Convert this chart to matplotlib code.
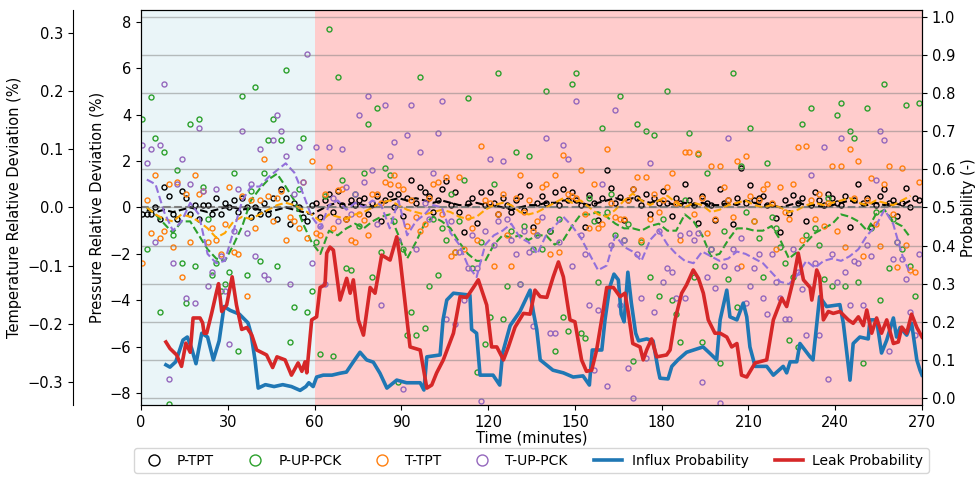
import numpy as np
import matplotlib.pyplot as plt

# Scatter readings, one every 1.5 min starting at 0.5 min (one row = 30 min)
p_tpt = [
    -0.3, -0.3, -0.3, 0.0, -0.5, 0.9, 0.5, -0.3, -0.5, 0.7, 0.4, -0.3, 0.1, -0.5, 0.1, 0.1, -0.3, 0.4, -0.3, 0.2,
    0.0, 0.3, -0.2, 0.4, 0.0, -0.4, 0.0, -0.3, 0.2, -0.3, 0.4, -0.5, 0.8, 0.4, -0.7, 0.2, 0.0, -0.4, -0.6, 0.1,
    0.2, -0.4, 0.3, 0.6, -0.2, 0.7, 0.1, -0.5, 0.3, 0.1, 0.3, 0.4, -0.3, 0.2, 0.5, -0.6, 0.3, 0.6, 0.0, 0.6,
    -0.35, 0.4, 1.2, 0.2, 0.9, 0.65, 0.5, -0.2, 0.3, 0.8, 1.15, 0.1, 0.65, -0.2, -1.05, 0.2, 0.4, -0.65, 0.65, 0.1,
    0.65, 0.2, -0.3, 0.4, 0.1, -0.2, 0.3, 0.5, -0.1, 0.95, -0.85, 0.2, 0.5, 0.2, -1.0, 0.65, 0.1, 0.8, 0.3, 0.65,
    0.3, 0.1, -0.85, 0.55, 0.2, -0.55, 0.4, 1.6, 0.85, 0.2, 0.45, -0.55, 0.3, 0.8, 0.4, 0.1, 0.6, -0.3, 0.4, 0.2,
    0.7, 0.2, -0.35, 0.4, 0.2, 1.0, 0.3, 0.1, -0.65, 0.5, 0.2, 0.1, -0.55, 0.8, 0.2, 0.3, -0.7, 0.4, 1.7, 0.2,
    0.95, 0.3, 0.4, 0.5, 0.1, 0.15, -0.45, -1.05, 0.3, -0.25, 0.55, 0.2, 0.4, -0.6, 0.1, 0.65, 0.3, 0.1, 0.6, 0.4,
    0.2, 0.1, 0.5, -0.85, 0.3, 1.0, 0.2, 0.4, -0.85, 0.1, 0.5, 0.8, 0.2, 0.3, -0.35, 0.2, 0.85, 0.0, 0.4, 0.3,
]
p_up_pck = [
    3.8, -1.8, 4.75, 3.0, -4.5, 2.4, -8.45, -1.2, 1.6, -2.4, -4.1, 3.6, -2.5, 3.8, 0.9, -0.5, -2.9, -2.4, -3.6, -3.3,
    -2.8, 1.5, -6.2, 4.8, -2.9, 0.7, 5.2, -2.3, 1.5, 2.9, 3.8, -2.5, 2.9, 5.9, -5.8, -4.3, 0.8, 3.0, -4.5, -3.6,
    -1.5, -6.3, 0.5, 7.7, -6.4, 5.6, 1.2, -2.6, -2.7, 0.6, -0.8, 1.5, 3.6, -3.0, 4.3, -1.9, 1.7, 1.4, -0.6, -7.5,
    -1.8, -5.5, -4.5, -5.5, 5.6, -5.2, -3.4, -0.5, -2.9, -0.9, -1.4, 0.6, -1.9, -0.6, 1.2, 4.7, -2.6, -7.1, -1.5, -5.9,
    -4.7, 1.0, 5.8, -4.8, -3.4, -1.0, 2.4, -3.3, -0.8, 2.2, -1.8, -1.2, -1.8, 5.0, -1.0, -6.2, -0.5, -4.7, -5.3, 5.3,
    5.8, -5.4, -5.6, 0.4, -0.6, -3.2, 3.4, -0.2, 0.6, -1.2, 4.8, -1.4, -0.7, -6.6, 3.6, -1.5, 3.3, -3.0, 3.1, -3.8,
    -0.5, 5.0, -4.0, -4.6, -5.8, 0.3, 3.2, -3.0, 2.3, -5.8, 1.5, -1.8, -2.5, -6.7, -1.0, -3.1, 5.8, -4.3, 1.8, -0.2,
    3.4, -0.6, -1.3, -3.0, 1.9, -0.4, -0.9, -1.7, -2.4, -5.7, -3.0, -6.0, 3.6, -1.2, 4.3, -0.9, -1.6, -3.1, 0.4, -3.4,
    4.0, 4.5, -3.4, 3.3, 3.0, -3.2, -6.7, 4.3, -0.9, -0.2, -4.0, 5.3, -2.6, -0.5, -1.5, -1.8, 4.4, -2.5, -3.8, 4.5,
]
t_tpt = [
    -0.096, 0.012, -0.044, 0.056, -0.052, -0.040, 0.040, -0.068, 0.044, -0.120, 0.024, -0.060, 0.056, 0.024, 0.028, -0.060, -0.036, -0.056, -0.080, -0.028,
    0.036, -0.076, -0.080, 0.020, -0.152, 0.012, -0.036, 0.012, 0.084, 0.020, -0.024, 0.016, 0.028, -0.056, -0.016, -0.024, -0.036, 0.044, -0.052, 0.080,
    -0.044, -0.048, 0.024, 0.070, -0.036, 0.030, 0.032, -0.020, -0.056, -0.060, -0.012, -0.022, -0.048, 0.024, 0.024, 0.008, 0.044, 0.040, 0.056, 0.038,
    0.032, -0.032, 0.012, -0.016, -0.040, -0.028, 0.016, 0.040, 0.044, -0.012, 0.052, -0.084, -0.076, 0.052, -0.072, -0.016, -0.036, -0.056, 0.106, 0.012,
    0.008, -0.100, -0.012, 0.024, -0.048, -0.100, 0.016, 0.056, -0.008, 0.012, -0.040, -0.024, 0.036, 0.040, -0.080, 0.056, -0.076, 0.090, 0.024, 0.020,
    0.016, 0.064, -0.012, -0.036, 0.040, -0.036, -0.028, 0.100, 0.008, -0.016, -0.020, -0.020, 0.012, 0.032, 0.052, -0.056, 0.052, -0.020, 0.024, -0.008,
    0.012, 0.036, 0.060, 0.008, -0.056, 0.096, 0.096, -0.012, 0.094, 0.016, -0.044, 0.072, -0.020, 0.072, 0.036, 0.012, -0.016, 0.080, -0.100, 0.088,
    0.020, -0.024, 0.012, 0.032, 0.040, 0.008, -0.072, 0.036, -0.008, -0.020, 0.040, 0.104, -0.056, 0.106, 0.012, -0.020, 0.024, -0.032, 0.008, 0.072,
    -0.040, 0.072, -0.068, 0.100, 0.016, 0.080, -0.084, 0.012, 0.050, -0.028, -0.066, 0.040, 0.072, -0.012, -0.102, 0.068, -0.064, -0.108, -0.112, 0.044,
]
t_up_pck = [
    0.108, 0.076, 0.100, -0.060, 0.108, 0.212, -0.296, -0.096, 0.040, 0.084, -0.156, 0.040, -0.164, 0.136, 0.028, -0.136, -0.112, 0.032, -0.084, -0.144,
    -0.236, -0.040, 0.032, 0.132, -0.044, 0.040, -0.084, 0.100, -0.116, -0.124, 0.116, 0.160, 0.132, 0.088, -0.132, 0.024, 0.104, 0.044, 0.264, -0.096,
    0.104, -0.032, -0.132, 0.104, 0.016, -0.024, 0.100, 0.036, -0.012, 0.024, 0.160, 0.044, 0.192, 0.064, -0.028, -0.168, 0.176, 0.088, 0.112, -0.056,
    -0.312, 0.124, 0.176, -0.072, 0.096, 0.008, -0.020, 0.060, 0.128, 0.184, -0.192, -0.024, -0.200, -0.076, -0.160, -0.104, -0.048, -0.104, -0.334, -0.040,
    0.084, -0.064, -0.024, 0.080, -0.020, -0.056, -0.080, -0.132, -0.040, -0.076, -0.204, -0.048, -0.016, 0.120, -0.216, -0.216, -0.060, 0.108, 0.084, -0.100,
    0.184, -0.048, -0.080, -0.168, -0.280, -0.176, 0.040, -0.308, -0.064, 0.168, -0.168, -0.056, -0.276, -0.328, -0.080, -0.156, -0.260, 0.076, -0.180, -0.040,
    -0.128, -0.104, -0.112, -0.156, -0.048, -0.156, -0.044, -0.056, -0.044, -0.300, -0.120, -0.072, -0.138, -0.336, -0.100, 0.120, -0.072, -0.104, -0.052, -0.164,
    -0.136, -0.104, -0.080, -0.156, -0.184, -0.080, -0.128, -0.156, -0.192, -0.192, -0.072, -0.112, -0.140, -0.220, 0.056, -0.096, -0.220, 0.104, -0.296, -0.080,
    -0.128, 0.120, -0.112, -0.168, -0.092, -0.096, -0.168, -0.064, -0.084, 0.048, 0.132, 0.116, -0.248, -0.088, -0.060, -0.088, -0.124, -0.180, -0.220, -0.080,
]

# Rolling means, one every 3 min starting at 2 min
p_tpt_roll = [
    -0.1, -0.2, -0.1, -0.2, -0.1, 0.0, -0.1, -0.2, -0.1, 0.0,
    0.0, -0.1, 0.0, -0.1, -0.2, -0.1, 0.0, -0.1, -0.2, -0.3,
    -0.1, 0.1, 0.2, 0.1, 0.2, 0.1, 0.0, 0.2, 0.3, 0.4,
    0.3, 0.4, 0.3, 0.2, 0.3, 0.2, 0.1, 0.1, 0.2, 0.1,
    0.1, 0.0, -0.1, 0.0, 0.1, 0.1, 0.2, 0.2, 0.3, 0.3,
    0.2, 0.1, 0.2, 0.3, 0.4, 0.3, 0.4, 0.3, 0.2, 0.3,
    0.2, 0.1, 0.2, 0.1, 0.2, 0.1, 0.1, 0.2, 0.1, 0.3,
    0.2, 0.1, 0.1, 0.0, 0.1, 0.2, 0.1, 0.1, 0.0, 0.1,
    0.2, 0.3, 0.2, 0.1, 0.2, 0.1, 0.2, 0.1, 0.3,
]
p_up_pck_roll = [
    0.0, -0.3, -0.7, -1.1, -0.6, -0.6, -1.2, -1.8, -2.2, -2.3,
    -1.6, -0.8, 0.3, 0.8, 1.2, 1.45, 0.9, 0.3, -0.7, -1.5,
    -2.0, -1.0, -1.2, -0.9, -0.7, -0.9, -0.6, -0.4, -0.3, -1.2,
    -2.2, -1.5, -0.7, -0.4, -0.6, -0.9, -1.5, -2.0, -2.3, -2.3,
    -1.6, -1.2, -1.3, -1.2, -1.4, -1.2, -1.2, -1.6, -1.4, -0.8,
    -0.3, -0.3, -0.2, -0.4, -0.7, -0.9, -0.9, -1.0, -0.8, -0.7,
    -1.0, -1.0, -0.3, -0.6, -1.2, -2.1, -2.0, -1.4, -0.9, -0.9,
    -1.0, -1.0, -0.8, -1.4, -2.2, -1.9, -1.5, -1.1, -0.9, -0.7,
    -0.3, -0.4, -0.6, -1.0, -0.3, -0.1, -0.6, -0.8, -1.3,
]
t_tpt_roll = [
    0.0, -0.012, -0.02, -0.024, -0.012, -0.016, -0.024, -0.036, -0.052, -0.044,
    -0.024, -0.016, -0.02, -0.012, -0.004, 0.004, 0.008, 0.004, -0.004, -0.012,
    -0.024, -0.012, -0.016, -0.02, -0.012, -0.008, 0.0, 0.008, 0.012, 0.004,
    -0.004, -0.008, -0.012, -0.008, -0.004, -0.008, -0.016, -0.02, -0.016, -0.004,
    0.004, 0.008, 0.004, -0.008, -0.012, -0.008, 0.0, 0.008, 0.016, 0.008,
    0.012, 0.0, -0.012, -0.016, -0.004, 0.012, 0.024, 0.012, 0.004, 0.012,
    0.02, 0.008, 0.0, 0.008, 0.004, -0.008, -0.004, 0.004, 0.008, 0.012,
    0.004, 0.0, 0.004, 0.0, -0.008, -0.004, 0.004, 0.008, 0.004, 0.008,
    0.012, 0.016, 0.008, 0.004, 0.012, 0.008, 0.004, 0.012, 0.02,
]
t_up_pck_roll = [
    0.048, 0.04, -0.008, -0.04, -0.024, 0.008, -0.012, -0.08, -0.096, -0.092,
    -0.04, 0.012, 0.036, 0.036, 0.052, 0.064, 0.076, 0.06, 0.024, -0.016,
    -0.036, 0.004, 0.012, -0.004, 0.008, 0.0, 0.012, 0.004, -0.036, 0.012,
    -0.048, -0.024, -0.012, 0.004, 0.0, -0.044, -0.064, -0.1, -0.12, -0.064,
    -0.048, -0.04, -0.028, -0.052, -0.06, -0.08, -0.048, -0.032, -0.016, -0.032,
    -0.052, -0.08, -0.108, -0.1, -0.048, -0.068, -0.076, -0.092, -0.056, -0.04,
    -0.064, -0.08, -0.092, -0.096, -0.076, -0.084, -0.092, -0.088, -0.076, -0.08,
    -0.088, -0.096, -0.112, -0.128, -0.132, -0.116, -0.092, -0.104, -0.092, -0.088,
    -0.092, -0.084, -0.072, -0.048, -0.032, -0.004, -0.028, -0.08, -0.116,
]

# Classifier output
influx_t = [8.6, 10, 12, 14.5, 16, 17.5, 19, 21, 23, 25, 27, 28.7, 30.8, 34, 37, 38, 39.4, 40.5, 43, 46,
            49, 52, 55, 57, 58, 59.5, 60.7, 63, 66, 68.8, 71, 73.4, 75.7, 78, 80.3, 82.6, 85, 88.4, 91.8, 96.5,
            97.8, 98.8, 103.4, 104.4, 105.7, 108, 113.7, 114.3, 116, 117.2, 121.7, 124, 125, 127.6, 131, 134.5,
            135.6, 136.8, 138, 142.4, 146, 149.4, 152.8, 155, 156, 159.3, 160.4, 162, 163.5, 165, 166, 167,
            168.3, 169.5, 171, 172, 174.8, 177, 178.8, 179.4, 182.2, 183.5, 185.6, 188.6, 194.3, 196.7, 199,
            200.2, 202.5, 203.6, 206, 208.2, 209.4, 210.5, 212.3, 216.3, 218.6, 222, 223.2, 224.4, 226.7,
            227.8, 231.3, 232.3, 234.6, 237, 241.6, 242.8, 245.1, 246.2, 248.5, 251.4, 252, 254.3, 256, 257.8,
            260.1, 261.2, 262.4, 264.7, 266.4, 268.2, 269.3, 270]
influx_p = [0.087, 0.081, 0.095, 0.152, 0.16, 0.13, 0.09, 0.17, 0.16, 0.10, 0.15, 0.24, 0.23, 0.22, 0.197, 0.17,
            0.10, 0.026, 0.035, 0.03, 0.035, 0.03, 0.02, 0.03, 0.04, 0.03, 0.055, 0.06, 0.06, 0.065, 0.068, 0.095,
            0.12, 0.10, 0.094, 0.065, 0.026, 0.047, 0.04, 0.04, 0.021, 0.108, 0.113, 0.205, 0.257, 0.275, 0.27,
            0.18, 0.17, 0.06, 0.06, 0.034, 0.118, 0.19, 0.227, 0.283, 0.227, 0.18, 0.1, 0.073, 0.066, 0.055,
            0.058, 0.034, 0.126, 0.126, 0.205, 0.29, 0.325, 0.31, 0.22, 0.2, 0.33, 0.25, 0.17, 0.15, 0.155, 0.15,
            0.073, 0.052, 0.05, 0.083, 0.1, 0.12, 0.134, 0.117, 0.1, 0.205, 0.283, 0.213, 0.205, 0.249, 0.213,
            0.134, 0.083, 0.083, 0.06, 0.083, 0.066, 0.095, 0.095, 0.143, 0.108, 0.1, 0.266, 0.24, 0.245, 0.196,
            0.047, 0.143, 0.16, 0.155, 0.205, 0.205, 0.118, 0.152, 0.21, 0.16, 0.185, 0.165, 0.196, 0.1, 0.073,
            0.06]
leak_t = [8.6, 10, 12.3, 14, 15.5, 17, 18, 20.4, 21.3, 21.8, 22.7, 24.4, 26, 26.8, 27.9, 29.6, 31.5, 33, 34.8,
          36.6, 38.3, 40, 43.4, 45.5, 47, 49.8, 52, 54.3, 55.6, 56.7, 57.3, 59, 60.7, 61.9, 63.6, 64.2, 65.3,
          66.5, 68.8, 71.1, 72.3, 73.4, 75.1, 76.9, 79.2, 80.9, 83.2, 86.1, 88.4, 89.5, 93, 96.5, 98.8, 100.5,
          102.2, 104.5, 108, 110.3, 112.6, 114.9, 116.6, 119.5, 121.2, 123, 125.3, 127, 129.3, 132.2, 134.5,
          136.2, 138, 140.3, 142.5, 144.3, 146, 148.3, 150, 152.3, 154, 155.8, 157.5, 159.8, 161, 163.3, 165.6,
          167.3, 168.5, 170, 172.5, 173.6, 174.8, 176.5, 178.3, 181.7, 182.9, 184.6, 186.9, 188.6, 190.9, 192.7,
          194.4, 196.1, 198.4, 200.2, 202.5, 204.2, 206, 207.6, 209.4, 212.3, 216.3, 218.6, 221.5, 223.2, 225.5,
          227.2, 229, 231.3, 231.9, 233.6, 234.6, 235.9, 237.6, 239.3, 241.6, 244.5, 246.2, 248, 249.7, 250.9,
          252.6, 254.3, 256, 257.8, 260.1, 261.8, 263, 264.7, 266.4, 268.2, 270]
leak_p = [0.147, 0.13, 0.113, 0.083, 0.144, 0.12, 0.21, 0.21, 0.197, 0.17, 0.17, 0.222, 0.275, 0.30, 0.227,
          0.244, 0.318, 0.244, 0.18, 0.185, 0.165, 0.126, 0.113, 0.08, 0.108, 0.10, 0.06, 0.092, 0.07, 0.095,
          0.066, 0.205, 0.213, 0.29, 0.297, 0.38, 0.396, 0.388, 0.257, 0.314, 0.275, 0.31, 0.205, 0.165, 0.29,
          0.275, 0.375, 0.362, 0.423, 0.37, 0.134, 0.126, 0.026, 0.034, 0.066, 0.1, 0.17, 0.266, 0.264, 0.29,
          0.31, 0.244, 0.134, 0.134, 0.1, 0.134, 0.186, 0.222, 0.22, 0.283, 0.266, 0.264, 0.318, 0.357, 0.318,
          0.205, 0.2, 0.1, 0.07, 0.073, 0.126, 0.231, 0.29, 0.29, 0.266, 0.275, 0.222, 0.143, 0.134, 0.1, 0.126,
          0.155, 0.108, 0.113, 0.126, 0.205, 0.275, 0.297, 0.336, 0.314, 0.275, 0.205, 0.17, 0.17, 0.16, 0.134,
          0.143, 0.06, 0.055, 0.092, 0.1, 0.205, 0.262, 0.24, 0.31, 0.38, 0.31, 0.29, 0.257, 0.336, 0.318, 0.205,
          0.227, 0.222, 0.227, 0.205, 0.196, 0.213, 0.19, 0.231, 0.17, 0.21, 0.17, 0.205, 0.143, 0.147, 0.186,
          0.17, 0.22, 0.185, 0.16]

t_pts = 0.5 + 1.5 * np.arange(len(p_tpt))
t_roll = 2 + 3 * np.arange(len(p_tpt_roll))

plt.rcParams['font.size'] = 10.5

fig = plt.figure(figsize=(9.76, 4.78), dpi=100)
ax = fig.add_axes([0.1445, 0.153, 0.8002, 0.826])
ax_t = ax.twinx()
ax_p = ax.twinx()

# well state background: normal first hour, leak afterwards
ax.axvspan(0, 60, color='lightblue', alpha=0.25, lw=0)
ax.axvspan(60, 270, color='red', alpha=0.2, lw=0)
ax.axhline(0, color='gray', ls='--', lw=1.5)

mk = dict(ls='none', marker='o', mfc='none', ms=3.6, mew=1.0)
h1, = ax.plot(t_pts, p_tpt, mec='black', label='P-TPT', **mk)
h2, = ax.plot(t_pts, p_up_pck, mec='tab:green', label='P-UP-PCK', **mk)
ax.plot(t_roll, p_tpt_roll, color='black', ls='--', lw=1.5)
ax.plot(t_roll, p_up_pck_roll, color='tab:green', ls='--', lw=1.5)

h3, = ax_t.plot(t_pts, t_tpt, mec='tab:orange', label='T-TPT', **mk)
h4, = ax_t.plot(t_pts, t_up_pck, mec='tab:purple', label='T-UP-PCK', **mk)
ax_t.plot(t_roll, t_tpt_roll, color='orange', ls='--', lw=1.5)
ax_t.plot(t_roll, t_up_pck_roll, color='mediumpurple', ls='--', lw=1.5)

h5, = ax_p.plot(influx_t, influx_p, color='tab:blue', lw=2.6, label='Influx Probability')
h6, = ax_p.plot(leak_t, leak_p, color='tab:red', lw=2.6, label='Leak Probability')

ax.set_xlim(0, 270)
ax.set_xticks(np.arange(0, 271, 30))
ax.set_ylim(-8.5, 8.5)
ax.set_yticks(np.arange(-8, 9, 2))
ax.set_xlabel('Time (minutes)', labelpad=1)
ax.set_ylabel('Pressure Relative Deviation (%)')

ax_t.set_ylim(-0.34, 0.34)
ax_t.set_yticks([-0.3, -0.2, -0.1, 0.0, 0.1, 0.2, 0.3])
ax_t.yaxis.set_ticks_position('left')
ax_t.yaxis.set_label_position('left')
ax_t.spines['left'].set_position(('axes', -0.087))
ax_t.spines['right'].set_visible(False)
ax_t.spines['top'].set_visible(False)
ax_t.spines['bottom'].set_visible(False)
ax_t.set_ylabel('Temperature Relative Deviation (%)')

ax_p.set_ylim(-0.018, 1.018)
ax_p.set_yticks(np.arange(0, 1.01, 0.1))
ax_p.grid(axis='y', color='gray', alpha=0.5, lw=1)
ax_p.set_ylabel('Probability (-)')

ax_p.legend([h1, h2, h3, h4, h5, h6],
            ['P-TPT', 'P-UP-PCK', 'T-TPT', 'T-UP-PCK', 'Influx Probability', 'Leak Probability'],
            loc='upper center', bbox_to_anchor=(0.5, -0.092), ncol=6, markerscale=2.2,
            frameon=True, fontsize=10, columnspacing=1.9, handletextpad=0.7)

fig.savefig('out.png', dpi=100)
